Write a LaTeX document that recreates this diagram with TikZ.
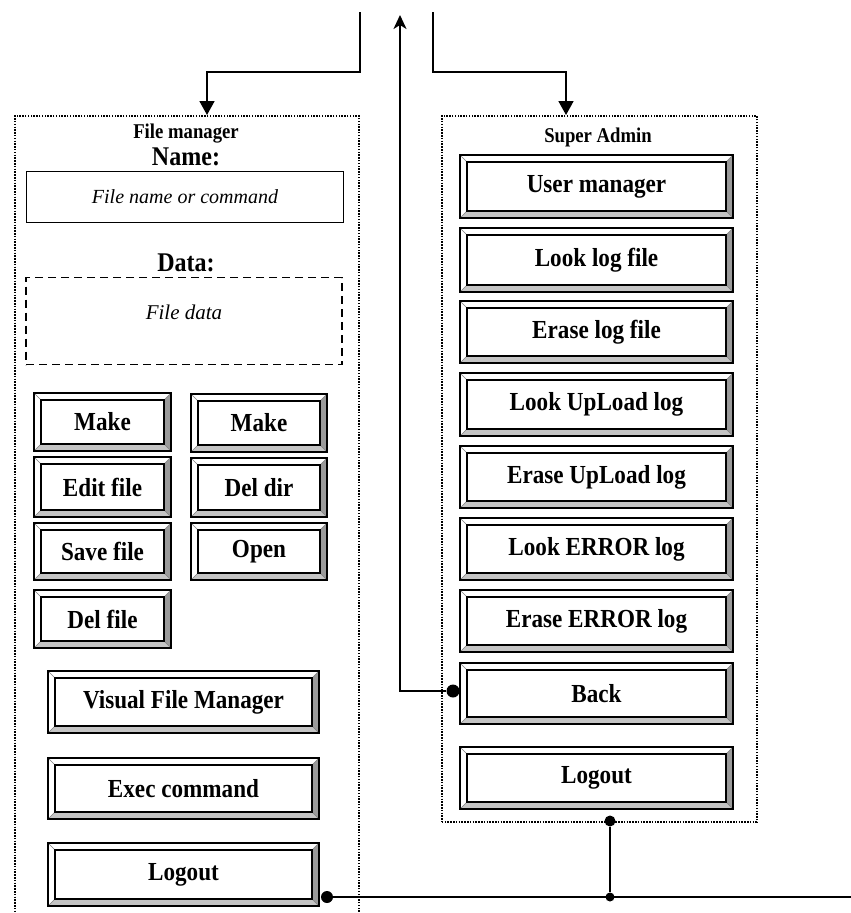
\documentclass[tikz,border=0pt]{standalone}
\usepackage{fontspec}
\setmainfont{Liberation Serif}
\newfontfamily\condfont{Liberation Serif}[FakeStretch=0.89]
\usetikzlibrary{arrows.meta,calc}

\definecolor{bevR}{HTML}{9A9A9A}
\definecolor{bevB}{HTML}{C4C4C4}

\tikzset{
  btn/.style={draw=black, line width=1.8pt, inner sep=0pt,
    font=\condfont\bfseries\fontsize{26}{30}\selectfont},
  bevelR/.style={fill=bevR},
  bevelB/.style={fill=bevB},
  bevelline/.style={draw=gray, line width=0.6pt},
  innerline/.style={draw=black, line width=1.5pt},
  cont/.style={draw=black, line width=1.6pt, dash pattern=on 1.5pt off 1.3pt, inner sep=0pt},
  ttl/.style={font=\condfont\bfseries\fontsize{21}{24}\selectfont, inner sep=0pt},
  lbl/.style={font=\condfont\bfseries\fontsize{27}{30}\selectfont, inner sep=0pt},
  itxt/.style={font=\itshape\fontsize{21}{24}\selectfont, inner sep=0pt},
  field/.style={draw=black, line width=1.5pt, inner sep=0pt,
    font=\itshape\fontsize{20}{24}\selectfont},
  dfield/.style={draw=black, line width=1.5pt, dash pattern=on 8pt off 5pt, inner sep=0pt},
  dotn/.style={circle, fill=black, inner sep=0pt, minimum size=#1},
  dotn/.default=11pt,
  conn/.style={draw=black, line width=1.8pt},
}

% #1 name, #2 x1, #3 y1 (top), #4 x2, #5 y2 (bottom), #6 text
\newcommand\Btn[6]{%
  \fill[white] (#2,#3) rectangle (#4,#5);
  \path[bevelB] (#2,#5) -- (#4,#5) -- ({#4-7},{#5-7}) -- ({#2+7},{#5-7}) -- cycle;
  \path[bevelR] (#4,#3) -- (#4,#5) -- ({#4-7},{#5-7}) -- ({#4-7},{#3+7}) -- cycle;
  \path[bevelline] (#2,#3) -- ({#2+7},{#3+7}) (#4,#3) -- ({#4-7},{#3+7})
        (#2,#5) -- ({#2+7},{#5-7}) (#4,#5) -- ({#4-7},{#5-7});
  \path[innerline] ({#2+7},{#3+7}) rectangle ({#4-7},{#5-7});
  \node[btn, minimum width={(#4-#2)*1pt}, minimum height={(#5-#3)*1pt}] (#1) at ({(#2+#4)/2},{(#3+#5)/2}) {#6};}

\begin{document}
\begin{tikzpicture}[x=1pt,y=-1pt]
\clip (0,0) rectangle (851,913);
\fill[white] (0,0) rectangle (851,913);

% containers
\node[cont, anchor=north west, minimum width=344pt, minimum height=830pt] (fm) at (14,115) {};
\node[cont, anchor=north west, minimum width=315pt, minimum height=706pt] (sa) at (441,115) {};

% file manager contents
\node[ttl] (fmt) at (186,134) {File manager};
\node[lbl] (nm) at (186,157) {Name:};
\node[field, minimum width=317pt, minimum height=51pt] (fn) at (185,197) {File name or command};
\node[lbl] (dl) at (186,263) {Data:};
\node[dfield, minimum width=316pt, minimum height=87pt] (fd) at (184,321) {};
\node[itxt] (fdt) at (184,312) {File data};

\Btn{mk1}{34}{393}{171}{451}{Make}
\Btn{mk2}{191}{394}{327}{452}{Make}
\Btn{ed}{34}{457}{171}{517}{Edit file}
\Btn{dd}{191}{458}{327}{517}{Del dir}
\Btn{sv}{34}{523}{171}{580}{Save file}
\Btn{op}{191}{523}{327}{580}{Open}
\Btn{df}{34}{590}{171}{648}{Del file}
\Btn{vfm}{48}{671}{319}{733}{Visual File Manager}
\Btn{ex}{48}{758}{319}{819}{Exec command}
\Btn{lo1}{48}{843}{319}{906}{Logout}

% super admin contents
\node[ttl] (sat) at (598,137) {Super Admin};
\Btn{um}{460}{155}{733}{218}{User manager}
\Btn{llf}{460}{228}{733}{292}{Look log file}
\Btn{elf}{460}{301}{733}{363}{Erase log file}
\Btn{lul}{460}{373}{733}{436}{Look UpLoad log}
\Btn{eul}{460}{446}{733}{508}{Erase UpLoad log}
\Btn{lel}{460}{518}{733}{580}{Look ERROR log}
\Btn{eel}{460}{590}{733}{652}{Erase ERROR log}
\Btn{back}{460}{663}{733}{724}{Back}
\Btn{lo2}{460}{747}{733}{809}{Logout}

% connector coordinates
\coordinate (t1) at (360,12);
\coordinate (t1b) at (360,72);
\coordinate (fmin) at (207,115);
\coordinate (t2) at (433,12);
\coordinate (t2b) at (433,72);
\coordinate (sain) at (566,115);
\coordinate (t3) at (400,15);
\coordinate (rend) at (851,897);

\node[dotn=13pt] (bd) at (453,691) {};
\node[dotn=12pt] (ld) at (327,897) {};
\node[dotn=11pt] (sd) at (610,821) {};
\node[dotn=9pt] (jd) at (610,897) {};

\draw[conn, -{Triangle[width=15pt,length=14pt]}] (t1) -- (t1b) -| (fmin);
\draw[conn, -{Triangle[width=15pt,length=14pt]}] (t2) -- (t2b) -| (sain);
\draw[conn, -{Stealth[width=13pt,length=14pt,inset=4pt]}] (bd) -| (t3);
\draw[conn] (ld) -- (rend);
\draw[conn] (sd) -- (jd);
\end{tikzpicture}
\end{document}
